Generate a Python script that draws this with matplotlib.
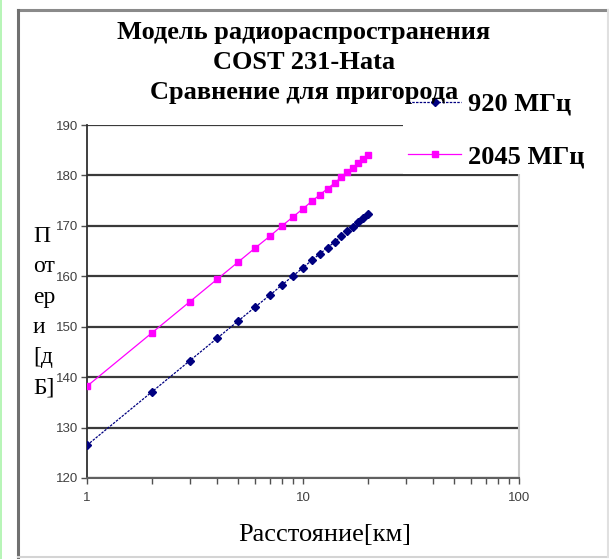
import numpy as np
import matplotlib
matplotlib.use("Agg")
import matplotlib.pyplot as plt
from matplotlib.patches import Rectangle
from matplotlib.lines import Line2D
from matplotlib.ticker import LogLocator, NullFormatter, FixedLocator

# ---- data ----
distance_km = [1, 2, 3, 4, 5, 6, 7, 8, 9, 10, 11, 12, 13, 14, 15, 16, 17, 18, 19, 20]
loss_920 = [126.5, 137.1, 143.3, 147.7, 151.1, 153.9, 156.2, 158.3, 160.1, 161.7,
            163.2, 164.5, 165.7, 166.8, 167.9, 168.9, 169.8, 170.7, 171.5, 172.3]
loss_2045 = [138.2, 148.8, 155.0, 159.4, 162.8, 165.6, 167.9, 170.0, 171.8, 173.4,
             174.9, 176.2, 177.4, 178.5, 179.6, 180.6, 181.5, 182.4, 183.2, 184.0]
series_labels = ["920 МГц", "2045 МГц"]
y_ticks = [120, 130, 140, 150, 160, 170, 180, 190]
x_ticks = [1, 10, 100]
title_lines = ["Модель радиораспространения", "COST 231-Hata", "Сравнение для пригорода"]
ylabel_text = "П\nот\nер\nи\n[д\nБ]"
xlabel_text = "Расстояние[км]"

W, H = 609, 559
fig = plt.figure(figsize=(W / 100, H / 100), dpi=100)
fig.patch.set_facecolor("white")

def fx(px):
    return px / W

def fy(py):
    return 1 - py / H

# outer frame (darker top/left, faint right/bottom) and thin green edge
fig.add_artist(Line2D([fx(18), fx(608)], [fy(10), fy(10)], transform=fig.transFigure,
                      color="#8a8a8a", linewidth=2.2, zorder=0))
fig.add_artist(Line2D([fx(18), fx(18)], [fy(10), fy(557)], transform=fig.transFigure,
                      color="#707070", linewidth=2.2, zorder=0))
fig.add_artist(Line2D([fx(18), fx(608)], [fy(557), fy(557)], transform=fig.transFigure,
                      color="#d4d4d4", linewidth=1.5, zorder=0))
fig.add_artist(Line2D([fx(608), fx(608)], [fy(10), fy(557)], transform=fig.transFigure,
                      color="#e0e0e0", linewidth=1.5, zorder=0))
fig.patches.append(Rectangle((0, 0), fx(1.5), 1, transform=fig.transFigure,
                             facecolor="#b8f5b8", edgecolor="none", zorder=0))

ax = fig.add_axes([fx(87), fy(478), fx(519) - fx(87), fy(125) - fy(478)])
ax.set_xscale("log")
ax.set_xlim(1, 100)
ax.set_ylim(120, 190)

ax.plot(distance_km, loss_920, color="#000080", linestyle=(0, (2, 1)), linewidth=0.9,
        marker="D", markersize=3.6, label=series_labels[0], zorder=3)
ax.plot(distance_km, loss_2045, color="#ff00ff", linestyle="-", linewidth=0.9,
        marker="s", markersize=4.4, label=series_labels[1], zorder=3)

ax.yaxis.set_major_locator(FixedLocator(y_ticks))
ax.set_yticklabels([str(t) for t in y_ticks])
ax.xaxis.set_major_locator(FixedLocator(x_ticks))
ax.set_xticklabels([str(t) for t in x_ticks])
ax.xaxis.set_minor_locator(LogLocator(base=10, subs=np.arange(2, 10), numticks=20))
ax.xaxis.set_minor_formatter(NullFormatter())

ax.grid(axis="y", which="major", color="#3a3a3a", linewidth=1.6)
ax.set_axisbelow(True)

ax.spines["top"].set_visible(False)
ax.spines["right"].set_color("#c8c8c8")
ax.spines["right"].set_linewidth(1.5)
ax.spines["left"].set_color("#303030")
ax.spines["left"].set_linewidth(1.3)
ax.spines["bottom"].set_color("#606060")
ax.spines["bottom"].set_linewidth(1.5)

ax.tick_params(axis="both", which="both", direction="out", colors="#505050",
               labelcolor="#404040", labelsize=9.5)
ax.tick_params(axis="y", length=4, width=1.0, pad=2)
ax.tick_params(axis="x", which="major", length=4, width=1.0, pad=6)
ax.tick_params(axis="x", which="minor", length=4, width=1.0)
for lab in ax.get_xticklabels() + ax.get_yticklabels():
    lab.set_family("Liberation Sans")

serif = "Liberation Serif"
# title
for i, line in enumerate(title_lines):
    fig.text(fx(304), fy(32 + 30 * i), line, ha="center", va="center",
             fontsize=19, fontweight="bold", family=serif, zorder=5)

# axis labels
fig.text(fx(33), fy(226), ylabel_text, ha="left", va="top", fontsize=17,
         family=serif, linespacing=1.58, zorder=5,
         bbox=dict(facecolor="white", edgecolor="none", pad=0.0))
fig.text(fx(325), fy(535), xlabel_text, ha="center", va="center", fontsize=19,
         family=serif, zorder=5)

# legend
leg = ax.legend(loc="upper left", bbox_to_anchor=(fx(403), fy(87)),
                bbox_transform=fig.transFigure, frameon=True, fancybox=False,
                facecolor="white", edgecolor="none", framealpha=1.0,
                prop={"family": serif, "weight": "bold", "size": 19},
                handlelength=2.0, handletextpad=0.25, labelspacing=1.1,
                borderpad=0.2, borderaxespad=0)
leg.set_zorder(10)

fig.savefig("out.png", dpi=100, facecolor="white")
